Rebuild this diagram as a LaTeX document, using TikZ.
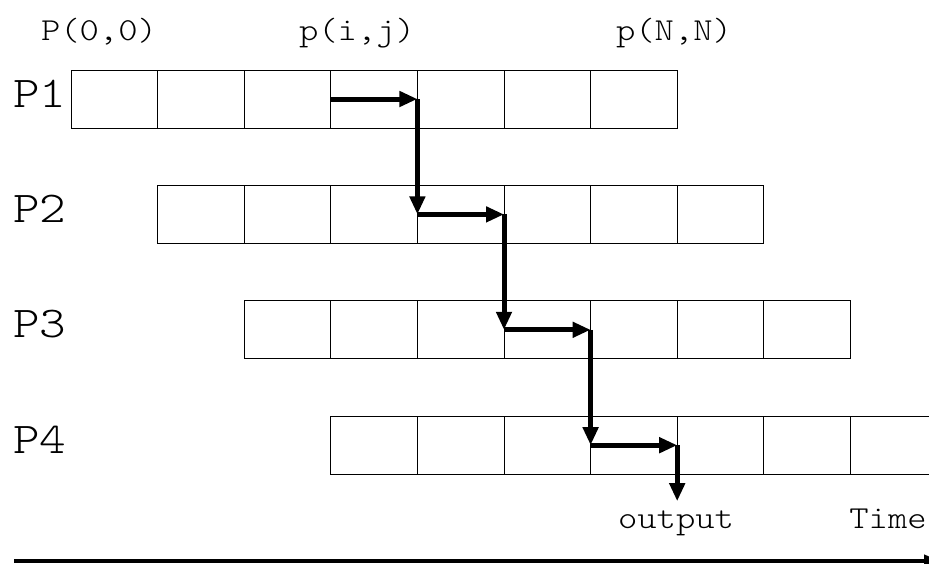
\documentclass[tikz,border=0pt]{standalone}
\usepackage{fontspec}
\setmonofont{lmmonolt10-regular.otf}[FakeStretch=1.15]
\usetikzlibrary{arrows.meta}

\tikzset{
  cell/.style={draw, line width=0.9pt, minimum width=86.6pt, minimum height=58pt, inner sep=0pt, outer sep=0pt},
  flow/.style={line width=5pt, -{Triangle[length=18pt,width=15pt]}},
  lbl/.style={font=\fontsize{32}{36}\ttfamily, anchor=base, inner sep=0pt},
  proc/.style={font=\fontsize{44}{48}\ttfamily, anchor=base west, inner sep=0pt}
}

\begin{document}
\begin{tikzpicture}[x=1pt,y=-1pt]
\useasboundingbox (0,0) rectangle (929,563);
\clip (0,0) rectangle (929,563);

% Processor rows, each shifted one cell to the right
\def\w{86.6}
\def\h{115.4}
\foreach \r in {1,...,4}{
  \node[proc] (P\r) at (13, {107+(\r-1)*\h}) {P\r};
  \foreach \k in {1,...,7}
    \node[cell] (c\r-\k) at ({71+(\r+\k-2)*\w+\w/2}, {99+(\r-1)*\h}) {};
}

% Staircase through the 4th cell of every row
\foreach \r [evaluate=\r as \n using int(\r+1)] in {1,2,3}{
  \draw[flow] (c\r-4.west) -- (c\r-4.east);
  \draw[flow] (c\r-4.east) -- (c\n-4.west);
}
\draw[flow] (c4-4.west) -- (c4-4.east);
\coordinate (out) at ([yshift=-56pt]c4-4.east);
\draw[flow] (c4-4.east) -- (out);

% Labels
\node[lbl] (p00) at (99,40) {P(0,0)};
\node[lbl] (pij) at (357,40) {p(i,j)};
\node[lbl] (pNN) at (674,40) {p(N,N)};
\node[lbl] (output) at (676,528) {output};
\node[lbl] (time) at (888,528) {Time};

% Time axis
\coordinate (t0) at (14,561);
\coordinate (t1) at (940,561);
\draw[line width=4.5pt, -{Triangle[length=16pt,width=12pt]}] (t0) -- (t1);

\end{tikzpicture}
\end{document}
